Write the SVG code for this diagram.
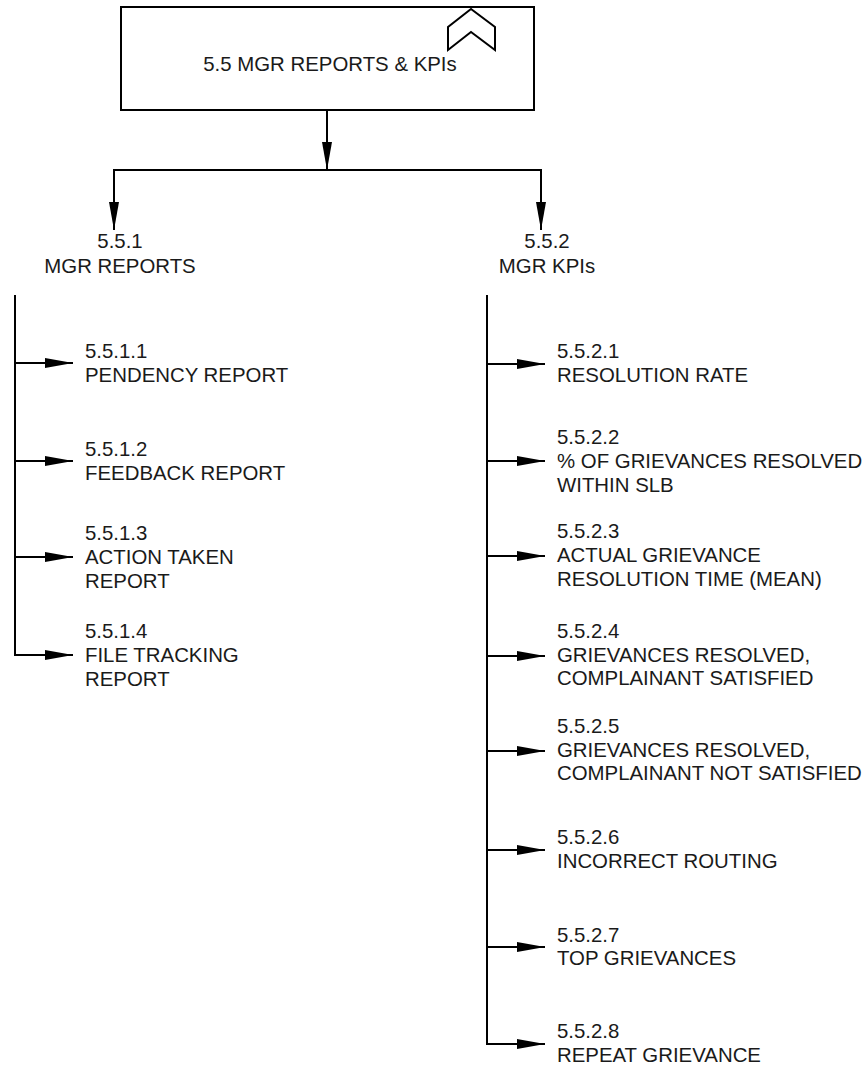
<svg xmlns="http://www.w3.org/2000/svg" width="864" height="1068" viewBox="0 0 864 1068">
<style>
text{font-family:"Liberation Sans",Arial,sans-serif;font-size:20.4px;fill:#1a1a1a}
.c{text-anchor:middle}
.ln{fill:none;stroke:#000;stroke-width:2}
</style>
<defs>
<marker id="ah" markerUnits="userSpaceOnUse" markerWidth="28" markerHeight="12" refX="28" refY="6" orient="auto">
<path d="M0,1 L28,6 L0,11 Z" fill="#000"/>
</marker>
</defs>
<rect width="864" height="1068" fill="#fff"/>
<g id="root">
<rect x="121" y="7" width="413" height="103" fill="#fff" stroke="#000" stroke-width="2"/>
<polygon points="448,50 448,27 471,9 495,27 495,50 471,32" fill="#fff" stroke="#000" stroke-width="2"/>
<text class="c" x="330" y="71">5.5 MGR REPORTS &amp; KPIs</text>
</g>
<g id="n551"><text class="c" x="120" y="248">5.5.1</text><text class="c" x="120" y="273">MGR REPORTS</text></g>
<g id="n552"><text class="c" x="547" y="248">5.5.2</text><text class="c" x="547" y="273">MGR KPIs</text></g>
<g id="n5511"><text x="85" y="358">5.5.1.1</text><text x="85" y="382">PENDENCY REPORT</text></g>
<g id="n5512"><text x="85" y="456">5.5.1.2</text><text x="85" y="480">FEEDBACK REPORT</text></g>
<g id="n5513"><text x="85" y="540">5.5.1.3</text><text x="85" y="564">ACTION TAKEN</text><text x="85" y="588">REPORT</text></g>
<g id="n5514"><text x="85" y="638">5.5.1.4</text><text x="85" y="662">FILE TRACKING</text><text x="85" y="686">REPORT</text></g>
<g id="n5521"><text x="557" y="358">5.5.2.1</text><text x="557" y="382">RESOLUTION RATE</text></g>
<g id="n5522"><text x="557" y="444">5.5.2.2</text><text x="557" y="468">% OF GRIEVANCES RESOLVED</text><text x="557" y="492">WITHIN SLB</text></g>
<g id="n5523"><text x="557" y="538">5.5.2.3</text><text x="557" y="562">ACTUAL GRIEVANCE</text><text x="557" y="586">RESOLUTION TIME (MEAN)</text></g>
<g id="n5524"><text x="557" y="638">5.5.2.4</text><text x="557" y="662">GRIEVANCES RESOLVED,</text><text x="557" y="685">COMPLAINANT SATISFIED</text></g>
<g id="n5525"><text x="557" y="733">5.5.2.5</text><text x="557" y="757">GRIEVANCES RESOLVED,</text><text x="557" y="780">COMPLAINANT NOT SATISFIED</text></g>
<g id="n5526"><text x="557" y="844">5.5.2.6</text><text x="557" y="868">INCORRECT ROUTING</text></g>
<g id="n5527"><text x="557" y="942">5.5.2.7</text><text x="557" y="965">TOP GRIEVANCES</text></g>
<g id="n5528"><text x="557" y="1038">5.5.2.8</text><text x="557" y="1062">REPEAT GRIEVANCE</text></g>
<g id="connectors" class="ln">
<path d="M327,110 V170" marker-end="url(#ah)"/>
<path d="M114,230 V170 H541 V230" />
<path d="M114,170 V230" marker-end="url(#ah)"/>
<path d="M541,170 V230" marker-end="url(#ah)"/>
<path d="M15,295 V655 H73" marker-end="url(#ah)"/>
<path d="M15,363 H73" marker-end="url(#ah)"/>
<path d="M15,461 H73" marker-end="url(#ah)"/>
<path d="M15,557 H73" marker-end="url(#ah)"/>
<path d="M487,295 V1044 H545" marker-end="url(#ah)"/>
<path d="M487,364 H545" marker-end="url(#ah)"/>
<path d="M487,461 H545" marker-end="url(#ah)"/>
<path d="M487,556 H545" marker-end="url(#ah)"/>
<path d="M487,656 H545" marker-end="url(#ah)"/>
<path d="M487,751 H545" marker-end="url(#ah)"/>
<path d="M487,850 H545" marker-end="url(#ah)"/>
<path d="M487,947 H545" marker-end="url(#ah)"/>
</g>
</svg>
